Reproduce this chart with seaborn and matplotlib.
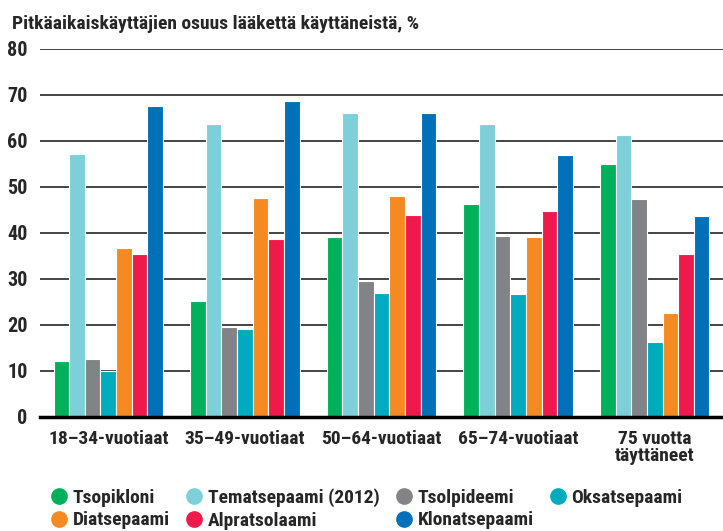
import numpy as np
import pandas as pd
import matplotlib
matplotlib.use("Agg")
import matplotlib.pyplot as plt
import seaborn as sns
from matplotlib.lines import Line2D

# ============================================================
# Data
# ============================================================

groups = ["18–34-vuotiaat", "35–49-vuotiaat", "50–64-vuotiaat", "65–74-vuotiaat", "75 vuotta\ntäyttäneet"]

drugs = ["Tsopikloni", "Tematsepaami (2012)", "Tsolpideemi", "Oksatsepaami",
         "Diatsepaami", "Alpratsolaami", "Klonatsepaami"]

tsopikloni = [12.2, 25.3, 39.2, 46.2, 55.1]
tematsepaami = [57.1, 63.6, 66.0, 63.8, 61.4]
tsolpideemi = [12.6, 19.6, 29.6, 39.4, 47.3]
oksatsepaami = [10.0, 19.2, 27.0, 26.8, 16.3]
diatsepaami = [36.8, 47.7, 48.1, 39.2, 22.7]
alpratsolaami = [35.5, 38.8, 44.0, 44.7, 35.5]
klonatsepaami = [67.5, 68.8, 66.0, 56.9, 43.8]

colors = ["#00b05a", "#7dd0d9", "#828387", "#00abbd", "#f58a23", "#ef1a4b", "#0071b9"]

yticks = [0, 10, 20, 30, 40, 50, 60, 70, 80]

title = "Pitkäaikaiskäyttäjien osuus lääkettä käyttäneistä, %"

series = [tsopikloni, tematsepaami, tsolpideemi, oksatsepaami,
          diatsepaami, alpratsolaami, klonatsepaami]

rows = []
for drug, vals in zip(drugs, series):
    for g, v in zip(groups, vals):
        rows.append({"Ryhmä": g, "Lääke": drug, "Osuus": v})
df = pd.DataFrame(rows)

# ============================================================
# Plot
# ============================================================

sns.set_style("white")
plt.rcParams["font.family"] = ["Roboto Condensed", "Barlow Condensed", "DejaVu Sans"]
plt.rcParams["font.weight"] = "bold"

fig = plt.figure(figsize=(7.23, 5.31), dpi=100)
ax = fig.add_axes([40 / 723, 114 / 531, 683 / 723, 368 / 531])

sns.barplot(
    data=df, x="Ryhmä", y="Osuus", hue="Lääke",
    order=groups, hue_order=drugs, palette=colors,
    width=0.8, edgecolor="white", linewidth=0.8,
    saturation=1, ax=ax, legend=True
)

ax.set_xlim(-0.5, 4.46)
ax.set_ylim(0, 80)
ax.set_yticks(yticks)
ax.set_yticklabels([str(t) for t in yticks], fontsize=14.5, fontweight="bold")
ax.set_xticks(range(len(groups)))
ax.set_xticklabels(groups, fontsize=14, fontweight="bold", linespacing=0.95)
ax.set_xticks(np.arange(-0.5, 5, 1), minor=True)
ax.tick_params(axis="x", which="major", length=0, pad=9)
ax.tick_params(axis="x", which="minor", direction="in", length=6, width=1.2, color="#333333")
ax.tick_params(axis="y", length=0, pad=9)
ax.set_xlabel("")
ax.set_ylabel("")

ax.grid(axis="y", color="#444444", linewidth=1.4)
ax.set_axisbelow(True)
for s in ["top", "right", "left"]:
    ax.spines[s].set_visible(False)
ax.spines["bottom"].set_color("black")
ax.spines["bottom"].set_linewidth(2.5)

fig.text(12 / 723, 1 - 24 / 531, title, fontsize=14, fontweight="bold", va="center")

# Legend, 2 rows x 4 columns
ax.get_legend().remove()
circ = [Line2D([], [], marker="o", linestyle="", markersize=11, color=c) for c in colors]
order = [0, 4, 1, 5, 2, 6, 3]
fig.legend(
    [circ[i] for i in order], [drugs[i] for i in order],
    ncol=4, loc="lower left", bbox_to_anchor=(32 / 723, -16 / 531),
    frameon=False, prop={"size": 14, "weight": "bold"},
    handletextpad=0.2, columnspacing=0.75,
    labelspacing=0.25, handlelength=1.0
)

plt.savefig("out.png", dpi=100)
